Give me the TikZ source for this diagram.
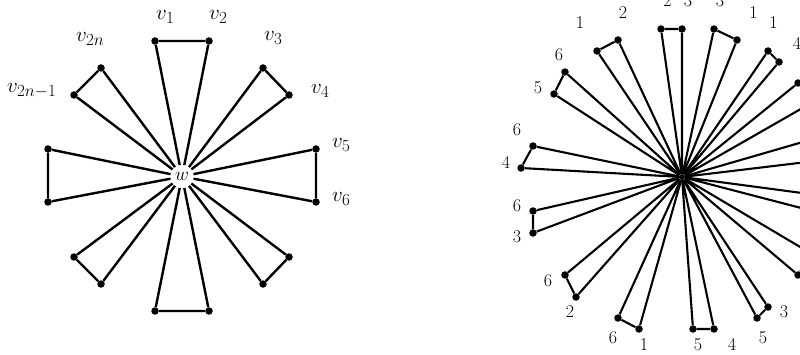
\RequirePackage{fix-cm}
\documentclass[tikz,border=0pt]{standalone}
\DeclareMathSizes{21}{21}{17}{13}
\begin{document}
\begin{tikzpicture}[x=1pt,y=-1pt,
  dot/.style={circle,fill=black,inner sep=0pt,minimum size=7.5pt},
  edgeL/.style={line width=2.4pt,line join=round},
  edgeR/.style={line width=2.1pt,line join=round},
  lab/.style={inner sep=0pt,anchor=base west,font=\fontsize{21}{24}\selectfont},
  num/.style={inner sep=0pt,anchor=base,font=\fontsize{18}{20}\selectfont},
  hub/.style={circle,fill=white,inner sep=0pt,minimum size=23pt,font=\fontsize{19}{21}\selectfont}]
\clip (0,0) rectangle (800,355);
% ---------- left figure ----------
\node[hub] (w) at (182,176.5) {$w$};
\foreach \n/\x/\y in {1/155/41,2/209/41,3/263/68,4/289/95,5/316/149,6/316/202,
  7/289/257,8/263/284,9/209/311,10/155/311,11/101/284,12/74/257,
  13/48/202,14/48/149,15/74/95,16/101/68}
  \node[dot] (a\n) at (\x,\y) {};
\foreach \i/\j in {1/2,3/4,5/6,7/8,9/10,11/12,13/14,15/16}
  \draw[edgeL] (w) -- (a\i) -- (a\j) -- (w);
\node[lab] (l1) at (156,19.5) {$v_1$};
\node[lab] (l2) at (209,19.5) {$v_2$};
\node[lab] (l3) at (264,41) {$v_3$};
\node[lab] (l4) at (311,94) {$v_4$};
\node[lab] (l5) at (332,148) {$v_5$};
\node[lab] (l6) at (332,202) {$v_6$};
\node[lab] (l2n) at (76,42) {$v_{2n}$};
\node[lab] (l2n1) at (7,93) {$v_{2n-1}$};
% ---------- right figure ----------
\node[dot,minimum size=6pt] (c) at (682,177) {};
\foreach \n/\x/\y in {1/682/29,2/661/29,3/618/40,4/597/51,5/565/72,6/554/94,
  7/533/146,8/521/168,9/533/211,10/533/233,11/565/275,12/576/297,
  13/618/318,14/639/329,15/693/329,16/714/329,17/757/318,18/768/307,
  19/798/275,20/812/254,21/828/215,22/832/197,23/832/159,24/827/135,
  25/813/102,26/798/83,27/779/62,28/768/51,29/737/40,30/714/29}
  \node[dot] (b\n) at (\x,\y) {};
\foreach \i/\j in {1/2,3/4,5/6,7/8,9/10,11/12,13/14,15/16,17/18,19/20,
  21/22,23/24,25/26,27/28,29/30}
  \draw[edgeR] (c) -- (b\i) -- (b\j) -- (c);
\foreach \k/\x/\y/\t in {1/667.5/7/2,2/688/7/3,3/720/6.5/3,4/753.5/18.5/1,
  5/773.5/28.3/1,6/797/50/4,7/623/18.8/2,8/580/28.8/1,9/559/60.8/6,
  10/538/93.8/5,11/517/135.8/6,12/506/168.8/4,13/517/211.8/6,14/517/242.8/3,
  15/548/286.8/6,16/570/317.8/2,17/613/343.8/6,18/644/350.8/1,
  19/698/350.8/5,20/732/350.8/4,21/763/343.8/5,22/784/317.8/3}
  \node[num] (n\k) at (\x,\y) {\t};
\end{tikzpicture}
\end{document}
